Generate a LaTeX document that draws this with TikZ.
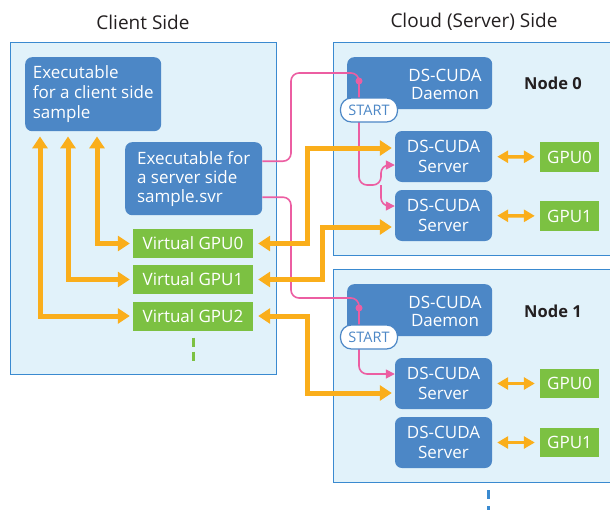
\documentclass[tikz,border=0pt]{standalone}
\usepackage{fontspec}
\setmainfont{Open Sans}
\usetikzlibrary{arrows.meta}

\definecolor{panelfill}{HTML}{E1F2FA}
\definecolor{panelline}{HTML}{3A8AD0}
\definecolor{boxblue}{HTML}{4C87C6}
\definecolor{gpugreen}{HTML}{7CC142}
\definecolor{linkorange}{HTML}{FAAE1B}
\definecolor{startpink}{HTML}{EC5EA2}
\definecolor{titlegray}{HTML}{231F20}

\begin{document}
\begin{tikzpicture}[x=1pt, y=-1pt,
  panel/.style={draw=panelline, fill=panelfill, line width=1pt, inner sep=0pt},
  bluebox/.style={fill=boxblue, rounded corners=7pt, inner sep=0pt},
  boxtext/.style={text=white, align=center, font=\fontsize{17}{20}\selectfont},
  greenbox/.style={fill=gpugreen, text=white, inner sep=0pt, font=\fontsize{17}{20}\selectfont},
  startpill/.style={draw=boxblue, fill=white, text=boxblue, line width=1.2pt, rounded corners=11pt,
    minimum width=57pt, minimum height=24pt, inner sep=0pt, font=\fontsize{14.5}{16}\selectfont},
  sidetitle/.style={text=titlegray, font=\fontsize{19}{22}\selectfont},
  nodetitle/.style={text=titlegray, font=\bfseries\fontsize{16.5}{20}\selectfont},
  oline/.style={draw=linkorange, line width=5pt, line join=miter, >={Triangle[length=12pt,width=15pt]}, <->,
    shorten <=5pt, shorten >=3pt},
  gline/.style={draw=linkorange, line width=3.5pt, >={Triangle[length=11pt,width=12pt]}, <->,
    shorten <=5pt, shorten >=5pt},
  pline/.style={draw=startpink, line width=1.6pt, rounded corners=8pt, >={Triangle[length=9pt,width=9pt]}},
  pdot/.style={circle, fill=startpink, inner sep=0pt, minimum size=7pt}
]
  \useasboundingbox (0,0) rectangle (610,509);

  % panels and titles
  \node (clientbox) [panel, anchor=north west, minimum width=266pt, minimum height=332pt] at (10,42) {};
  \node (cloudbox0) [panel, anchor=north west, minimum width=280pt, minimum height=213pt] at (333,42) {};
  \node (cloudbox1) [panel, anchor=north west, minimum width=280pt, minimum height=213pt] at (333,269) {};
  \node (clienttitle) [sidetitle] at (143,22) {Client Side};
  \node (cloudtitle) [sidetitle] at (474,22) {Cloud (Server) Side};
  \node (nodename0) [nodetitle] at (553,83) {Node 0};
  \node (nodename1) [nodetitle] at (553,311) {Node 1};

  % client side
  \node (cexe) [bluebox, boxtext, align=left, anchor=north west, minimum width=136pt, minimum height=74pt]
    at (25,57) {Executable\\for a client side\\sample};
  \node (sexe) [bluebox, boxtext, align=left, anchor=north west, minimum width=137pt, minimum height=73pt,
    font=\fontsize{17}{19}\selectfont] at (125,142) {Executable for\\a server side\\sample.svr};
  \node (vgpu0) [greenbox, minimum width=120pt, minimum height=29pt] at (193,243.5) {Virtual GPU0};
  \node (vgpu1) [greenbox, minimum width=120pt, minimum height=29pt] at (193,279.5) {Virtual GPU1};
  \node (vgpu2) [greenbox, minimum width=120pt, minimum height=29pt] at (193,316) {Virtual GPU2};
  \draw[gpugreen, line width=3pt, dash pattern=on 9pt off 5pt] ([yshift=-7pt]vgpu2.south) -- ++(0,23);

  % node 0
  \node (dmn0) [bluebox, anchor=north west, minimum width=145pt, minimum height=52pt] at (347,57) {};
  \node (dmntext0) [boxtext, font=\fontsize{17}{18}\selectfont] at (445,84) {DS-CUDA\\Daemon};
  \node (srv00) [bluebox, boxtext, minimum width=97pt, minimum height=51pt] at (443.5,156.5) {DS-CUDA\\Server};
  \node (srv01) [bluebox, boxtext, minimum width=97pt, minimum height=51pt] at (443.5,215.5) {DS-CUDA\\Server};
  \node (gpu00) [greenbox, minimum width=59pt, minimum height=30pt] at (569.5,157) {GPU0};
  \node (gpu01) [greenbox, minimum width=59pt, minimum height=30pt] at (569.5,216) {GPU1};
  \node (dot0) [pdot] at (359,81) {};

  % node 1
  \node (dmn1) [bluebox, anchor=north west, minimum width=145pt, minimum height=52pt] at (347,284) {};
  \node (dmntext1) [boxtext, font=\fontsize{17}{18}\selectfont] at (445,311) {DS-CUDA\\Daemon};
  \node (srv10) [bluebox, boxtext, minimum width=97pt, minimum height=51pt] at (443.5,383.5) {DS-CUDA\\Server};
  \node (srv11) [bluebox, boxtext, minimum width=97pt, minimum height=51pt] at (443.5,442.5) {DS-CUDA\\Server};
  \node (gpu10) [greenbox, minimum width=59pt, minimum height=29pt] at (569.5,383.5) {GPU0};
  \node (gpu11) [greenbox, minimum width=59pt, minimum height=29pt] at (569.5,442.5) {GPU1};
  \node (dot1) [pdot] at (359,308) {};
  \draw[panelline, line width=3pt, dash pattern=on 9pt off 7pt] ([yshift=-7pt]cloudbox1.south -| 488,0) -- ++(0,24);

  % lanes
  \coordinate (prail0) at (291,73);
  \coordinate (prail1) at (291,298);
  \coordinate (fork0) at (381,185);
  \coordinate (olaneA) at (307,0);
  \coordinate (olaneB) at (322,0);

  % start lines
  \draw[pline] ([yshift=17.5pt]sexe.east) -| (prail0) -| (dot0.center); % sexe->dmn0
  \draw[pline, ->] (dot0.center) |- (fork0) |- ([yshift=-8.5pt]srv00.west); % dmn0->srv00
  \draw[pline, ->] (fork0) |- ([yshift=9.5pt]srv01.west); % dmn0->srv01
  \draw[pline] ([yshift=-18.5pt]sexe.east) -| (prail1) -| (dot1.center); % sexe->dmn1
  \draw[pline, ->] (dot1.center) |- ([yshift=9.5pt]srv10.west); % dmn1->srv10

  % client side links
  \draw[oline] ([xshift=72pt]cexe.south west) |- (vgpu0.west);
  \draw[oline] ([xshift=43pt]cexe.south west) |- (vgpu1.west);
  \draw[oline] ([xshift=15pt]cexe.south west) |- (vgpu2.west);

  % virtual gpu -> server
  \draw[oline] (vgpu0.east) -- (vgpu0.east -| olaneA) |- ([yshift=8.5pt]srv00.west);
  \draw[oline] (vgpu1.east) -- (vgpu1.east -| olaneB) |- ([yshift=-11.5pt]srv01.west);
  \draw[oline] (vgpu2.east) -- (vgpu2.east -| olaneA) |- ([yshift=-9.5pt]srv10.west);

  % server <-> gpu
  \draw[gline] (srv00) -- (gpu00);
  \draw[gline] (srv01) -- (gpu01);
  \draw[gline] (srv10) -- (gpu10);
  \draw[gline] (srv11) -- (gpu11);

  \node (start0) [startpill] at (369,110) {START};
  \node (start1) [startpill] at (369,337) {START};
\end{tikzpicture}
\end{document}
